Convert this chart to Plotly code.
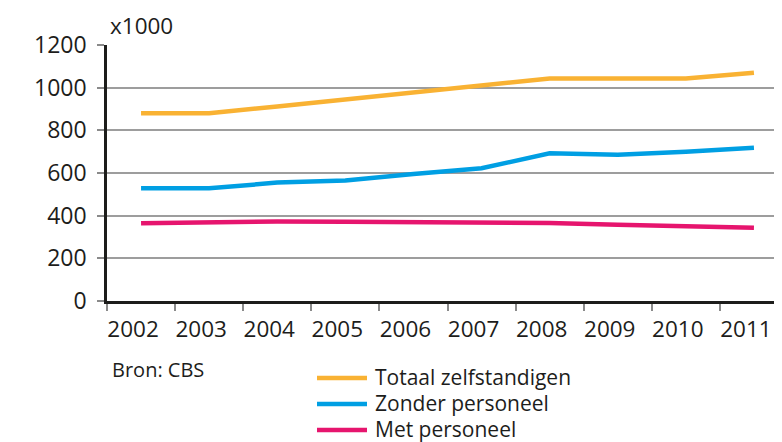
import plotly.graph_objects as go

years = ["2002", "2003", "2004", "2005", "2006", "2007", "2008", "2009", "2010", "2011"]
totaal = [880, 880, 912, 945, 975, 1007, 1043, 1043, 1043, 1070]
zonder = [528, 528, 555, 565, 595, 622, 692, 685, 700, 718]
met = [364, 368, 373, 371, 369, 368, 366, 358, 350, 343]

names = ["Totaal zelfstandigen", "Zonder personeel", "Met personeel"]
colors = ["#F9B233", "#009FE3", "#E6156E"]
series = [totaal, zonder, met]

FONT = "Open Sans"
OFF = 8  # page body margin
W, H = 782, 442
# plot area in screen pixels: left 107, right 782, top 45, bottom 301
L, T = 107 - OFF, 45 - OFF
R = W - (782 - OFF)
B = H - (301 - OFF)
pw, ph = W - L - R, H - T - B

def px(x):
    return (x - OFF - L) / pw

def py(y):
    return (H - B - (y - OFF)) / ph

fig = go.Figure()
for n, c, s in zip(names, colors, series):
    fig.add_trace(go.Scatter(x=years, y=s, name=n, mode="lines",
                             line=dict(color=c, width=4.5), showlegend=False))

fig.update_layout(
    width=W, height=H,
    margin=dict(l=L, r=R, t=T, b=B),
    paper_bgcolor="white", plot_bgcolor="white",
    font=dict(family=FONT, color="#1d1d1b", size=21),
    xaxis=dict(type="category", range=[-0.5, -0.5 + pw / 68.1],
               showline=True, linecolor="#1d1d1b", linewidth=2.5,
               ticks="outside", tickson="boundaries", ticklen=7, tickwidth=2,
               tickcolor="#8a8a8a", showgrid=False, ticklabelshift=-8,
               ticklabelstandoff=6, tickfont=dict(size=22.5)),
    yaxis=dict(range=[0, 1200], dtick=200, showline=True, linecolor="#1d1d1b",
               linewidth=2.5, ticks="outside", ticklen=7, tickwidth=1.5,
               tickcolor="#8a8a8a", showgrid=True, gridcolor="#9d9d9d",
               gridwidth=1.5, zeroline=False, ticklabelstandoff=6,
               tickfont=dict(size=23)),
)

fig.add_annotation(text="x1000", xref="paper", yref="paper", x=px(108), y=py(25),
                   xanchor="left", yanchor="middle", showarrow=False,
                   font=dict(size=22.5))
fig.add_annotation(text="Bron: CBS", xref="paper", yref="paper", x=px(110), y=py(369),
                   xanchor="left", yanchor="middle", showarrow=False,
                   font=dict(size=20))

rows = [378, 404, 430]
for n, c, r in zip(names, colors, rows):
    fig.add_shape(type="line", xref="paper", yref="paper",
                  x0=px(317), x1=px(367), y0=py(r), y1=py(r),
                  line=dict(color=c, width=4.5))
    fig.add_annotation(text=n, xref="paper", yref="paper", x=px(373), y=py(r - 1),
                       xanchor="left", yanchor="middle", showarrow=False,
                       font=dict(size=21))

fig.write_html("out.html")
